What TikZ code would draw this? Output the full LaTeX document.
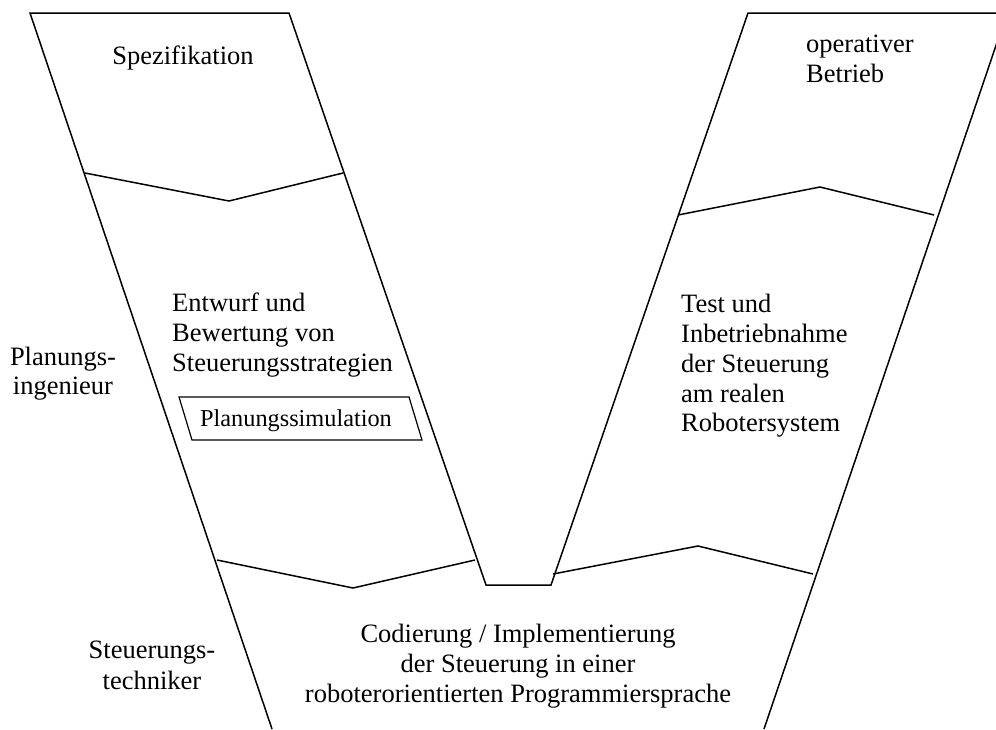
\documentclass[tikz,border=0pt]{standalone}
\usepackage{fontspec}
\setmainfont{Liberation Serif}
\begin{document}
\begin{tikzpicture}[x=1pt,y=-1pt,
  edge/.style={line width=1.5pt, line join=miter},
  txt/.style={inner sep=0pt, font=\fontsize{26.5}{30}\selectfont},
  smalltxt/.style={inner sep=0pt, font=\fontsize{24.3}{28}\selectfont}]
\useasboundingbox (0,0) rectangle (996,729);
\clip (0,0) rectangle (996,729);
% outline coordinates
\coordinate (lb) at (272,729);
\coordinate (lt) at (30,13);
\coordinate (lti) at (289,13);
\coordinate (nl) at (486,585);
\coordinate (nr) at (551,585);
\coordinate (rti) at (748,13);
\coordinate (rt) at (1007,13);
\coordinate (rb) at (764,729);
\draw[edge] (lb) -- (lt) -- (lti) -- (nl) -- (nr) -- (rti) -- (rt) -- (rb);
% separators
\coordinate (z1a) at (85,173); \coordinate (z1b) at (229,201); \coordinate (z1c) at (343,173);
\coordinate (z2a) at (217,560); \coordinate (z2b) at (353,588); \coordinate (z2c) at (475,560);
\coordinate (z3a) at (553,574); \coordinate (z3b) at (698,546); \coordinate (z3c) at (813,574);
\coordinate (z4a) at (678,215); \coordinate (z4b) at (820,187); \coordinate (z4c) at (934,215);
\draw[edge] (z1a) -- (z1b) -- (z1c);
\draw[edge] (z2a) -- (z2b) -- (z2c);
\draw[edge] (z3a) -- (z3b) -- (z3c);
\draw[edge] (z4a) -- (z4b) -- (z4c);
% Planungssimulation box
\coordinate (p1) at (179,397); \coordinate (p2) at (409,397);
\coordinate (p3) at (422,440); \coordinate (p4) at (192,440);
\draw[line width=1.2pt] (p1) -- (p2) -- (p3) -- (p4) -- cycle;
\node[smalltxt, anchor=base] (sim) at (296,426) {Planungssimulation};
% texts
\node[txt, anchor=base] (spec) at (183,64) {Spezifikation};
\node[txt, anchor=base west] (op1) at (806,52) {operativer};
\node[txt, anchor=base west] (op2) at (806,82) {Betrieb};
\node[txt, anchor=base west] (ent1) at (172,311) {Entwurf und};
\node[txt, anchor=base west] (ent2) at (172,341) {Bewertung von};
\node[txt, anchor=base west] (ent3) at (172,371) {Steuerungsstrategien};
\node[txt, anchor=base west] (tst1) at (681,312) {Test und};
\node[txt, anchor=base west] (tst2) at (681,342) {Inbetriebnahme};
\node[txt, anchor=base west] (tst3) at (681,372) {der Steuerung};
\node[txt, anchor=base west] (tst4) at (681,402) {am realen};
\node[txt, anchor=base west] (tst5) at (681,431) {Robotersystem};
\node[txt, anchor=base] (pi1) at (63,365) {Planungs-};
\node[txt, anchor=base] (pi2) at (63,394) {ingenieur};
\node[txt, anchor=base] (st1) at (152,658) {Steuerungs-};
\node[txt, anchor=base] (st2) at (152,689) {techniker};
\node[txt, anchor=base] (cod1) at (518,642) {Codierung / Implementierung};
\node[txt, anchor=base] (cod2) at (518,672) {der Steuerung in einer};
\node[txt, anchor=base] (cod3) at (518,702) {roboterorientierten Programmiersprache};
\end{tikzpicture}
\end{document}
